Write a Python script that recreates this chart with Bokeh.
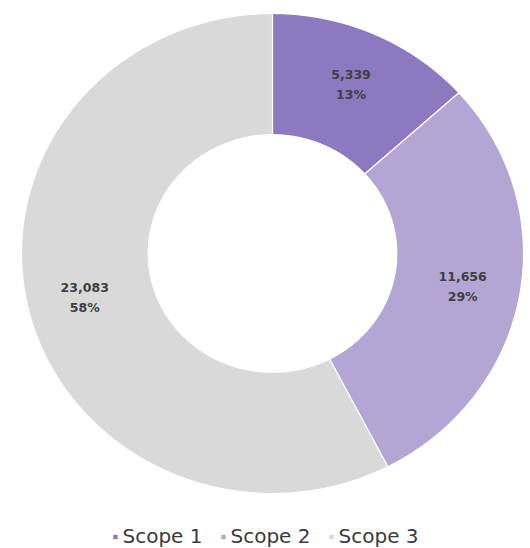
import numpy as np
from bokeh.plotting import figure
from bokeh.models import Range1d, Legend, LegendItem, ColumnDataSource
from bokeh.core.properties import value
from bokeh.embed import file_html
from bokeh.resources import INLINE

categories = ["Scope 1", "Scope 2", "Scope 3"]
values = [5339, 11656, 23083]
colors = ["#8C79BF", "#B3A6D5", "#D9D9D9"]

# layout (pixels)
W, H = 530, 548
CX, CY = 272, 253          # donut centre, from top-left of the figure
RX, RY = 251, 240          # outer radius in px (horizontal / vertical)
INNER = 0.495
LABEL_R = 0.77

total = float(sum(values))
fracs = [v / total for v in values]
cum = np.concatenate([[0.0], np.cumsum(fracs)])

xs, ys, lx, ly, vtxt, ptxt = [], [], [], [], [], []
for i, v in enumerate(values):
    t0 = np.pi / 2 - 2 * np.pi * cum[i]
    t1 = np.pi / 2 - 2 * np.pi * cum[i + 1]
    t = np.linspace(t0, t1, 200)
    ox, oy = np.cos(t), np.sin(t)
    ix, iy = INNER * np.cos(t[::-1]), INNER * np.sin(t[::-1])
    xs.append(list(np.concatenate([ox, ix])))
    ys.append(list(np.concatenate([oy, iy])))
    tm = (t0 + t1) / 2
    lx.append(LABEL_R * np.cos(tm))
    ly.append(LABEL_R * np.sin(tm))
    vtxt.append(f"{v:,}")
    ptxt.append(f"{round(v / total * 100)}%")

p = figure(width=W, height=H, output_backend="svg", toolbar_location=None,
           x_range=Range1d(-CX / RX, (W - CX) / RX),
           y_range=Range1d(-(H - CY) / RY, CY / RY),
           min_border=0)
p.axis.visible = False
p.grid.visible = False
p.outline_line_color = None
p.background_fill_color = "white"

src = ColumnDataSource(dict(xs=xs, ys=ys, color=colors, cat=categories))
r = p.patches("xs", "ys", source=src, fill_color="color", line_color="white", line_width=1.2)

lsrc = ColumnDataSource(dict(x=lx, y=ly, v=vtxt, pc=ptxt))
common = dict(text_font=value("DejaVu Sans"), text_font_style="bold", text_font_size="12.5px",
              text_color="#404040", text_align="center", text_baseline="middle")
p.text("x", "y", text="v", source=lsrc, y_offset=-10, **common)
p.text("x", "y", text="pc", source=lsrc, y_offset=10, **common)

items = [LegendItem(label=c, renderers=[r], index=i) for i, c in enumerate(categories)]
legend = Legend(items=items, orientation="horizontal", location="bottom_center",
                glyph_width=7, glyph_height=7, label_standoff=4, spacing=17,
                label_text_font="DejaVu Sans", label_text_font_size="20px",
                label_text_color="#3A3A3A", padding=0, margin=0,
                background_fill_alpha=0, border_line_alpha=0)
p.add_layout(legend, "center")

open("out.html", "w").write(file_html(p, INLINE))
